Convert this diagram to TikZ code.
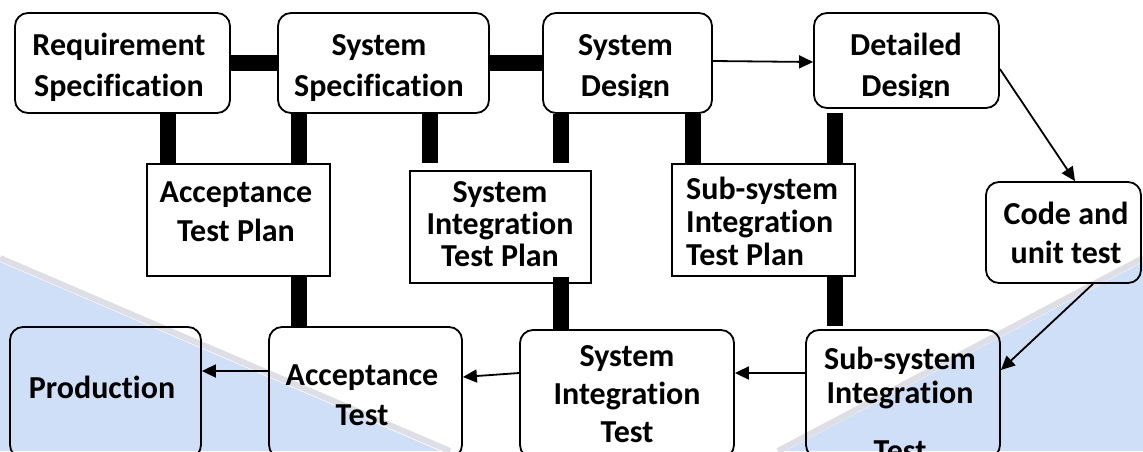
\documentclass[tikz,border=0pt]{standalone}
\usepackage{fontspec}
\setmainfont{Carlito}[Ligatures=NoCommon]
\usetikzlibrary{arrows.meta}
\definecolor{bgblue}{RGB}{207,223,247}
\definecolor{stripe}{RGB}{222,222,230}
\begin{document}
\begin{tikzpicture}[x=1pt,y=-1pt,
  rbox/.style={draw,line width=1.8pt,rounded corners=13pt,inner sep=0pt},
  pbox/.style={draw,line width=1.5pt,inner sep=0pt},
  lbl/.style={font=\fontsize{32}{#1}\selectfont\bfseries,align=center,inner sep=0pt,anchor=north},
  lbl/.default=40,
  bar/.style={line width=16pt},
  arr/.style={line width=1.8pt,-{Triangle[length=14pt,width=13pt]}}]
\useasboundingbox (0,0) rectangle (1143,451);
% background
\fill[white] (0,0) rectangle (1143,451);
\fill[bgblue] (0,262) -- (440,451) -- (0,451) -- cycle;
\fill[bgblue] (1143,262) -- (1143,451) -- (785,451) -- cycle;
\draw[stripe,line width=6pt] (0,258) -- (450,451);
\draw[stripe,line width=6pt] (1143,258) -- (778,451);
% top row
\node[rbox,minimum width=215pt,minimum height=100pt] (rs) at (122.5,63) {};
\node[rbox,minimum width=211pt,minimum height=100pt] (ss) at (383.5,63) {};
\node[rbox,minimum width=169pt,minimum height=100pt] (sd) at (627.5,63) {};
\node[rbox,minimum width=185pt,minimum height=95pt] (dd) at (906.5,60.5) {};
\node[rbox,minimum width=155pt,minimum height=101pt] (cut) at (1063.5,232.5) {};
% plans
\node[pbox,minimum width=183pt,minimum height=112pt] (atp) at (238.5,220) {};
\node[pbox,minimum width=181pt,minimum height=112pt] (sitp) at (500.5,227) {};
\node[pbox,minimum width=183pt,minimum height=112pt] (sstp) at (763.5,220) {};
% bottom row
\node[rbox,minimum width=191pt,minimum height=131pt] (prod) at (105.5,392.5) {};
\node[rbox,minimum width=193pt,minimum height=131pt] (at) at (365.5,392.5) {};
\node[rbox,minimum width=214pt,minimum height=128pt] (sit) at (627,394) {};
\node[rbox,minimum width=194pt,minimum height=128pt] (ssi) at (903,394) {};
% labels
\node[lbl=41] (rst) at (119,28) {\rule{0pt}{27pt}Requirement\\Specification};
\node[lbl=41] (sst) at (379,28) {\rule{0pt}{27pt}System\\Specification};
\begin{scope}
\clip (540,0) rectangle (1143,97.5);
\node[lbl=41] (sdt) at (625.5,28) {\rule{0pt}{27pt}System\\Design};
\node[lbl=41] (ddt) at (906,28) {\rule{0pt}{27pt}Detailed\\Design};
\end{scope}
\node[lbl=39] (cutt) at (1066,197) {\rule{0pt}{27pt}Code and\\unit test};
\node[lbl=39] (atpt) at (236,175) {\rule{0pt}{27pt}Acceptance\\Test Plan};
\node[lbl=32] (sitpt) at (500,175) {\rule{0pt}{27pt}System\\Integration\\Test Plan};
\node[lbl=33,align=left,anchor=north west] (sstpt) at (686,172) {\rule{0pt}{27pt}Sub-system\\Integration\\Test Plan};
\node[lbl] (prodt) at (102,371) {\rule{0pt}{27pt}Production};
\node[lbl=40] (att) at (362,358) {\rule{0pt}{27pt}Acceptance\\Test};
\node[lbl=38] (sitt) at (627,339) {\rule{0pt}{27pt}System\\Integration\\Test};
\node[lbl=34] (ssit) at (900,342) {\rule{0pt}{27pt}Sub-system\\Integration\\[24pt]Test};
% thick bars
\draw[bar] (rs.east |- 0,62.5) -- (ss.west |- 0,62.5);
\draw[bar] (ss.east |- 0,62.5) -- (sd.west |- 0,62.5);
\draw[bar] (rs.south -| 167.5,0) -- (atp.north -| 167.5,0);
\draw[bar] (ss.south -| 298.5,0) -- (atp.north -| 298.5,0);
\draw[bar,shorten >=7pt] (ss.south -| 430,0) -- (sitp.north -| 430,0);
\draw[bar,shorten >=7pt] (sd.south -| 561,0) -- (sitp.north -| 561,0);
\draw[bar] (sd.south -| 693,0) -- (sstp.north -| 693,0);
\draw[bar,shorten <=4pt] (dd.south -| 835,0) -- (sstp.north -| 835,0);
\draw[bar] (atp.south -| 299,0) -- (at.north -| 299,0);
\draw[bar,shorten <=-7pt] (sitp.south -| 560.5,0) -- (sit.north -| 560.5,0);
\draw[bar,shorten <=-2pt,shorten >=3pt] (sstp.south -| 834.5,0) -- (ssi.north -| 834.5,0);
% thin arrows
\draw[arr] (sd.east |- 0,61) -- (dd.west |- 0,62);
\draw[arr] (dd.east |- 0,69) -- (cut.north -| 1075,0);
\draw[arr] (cut.south -| 1093,0) -- (ssi.east |- 0,370);
\draw[arr] (ssi.west |- 0,373) -- (sit.east |- 0,373);
\draw[arr] (sit.west |- 0,373) -- (at.east |- 0,377);
\draw[arr] (at.west |- 0,371) -- (prod.east |- 0,371);
\end{tikzpicture}
\end{document}
